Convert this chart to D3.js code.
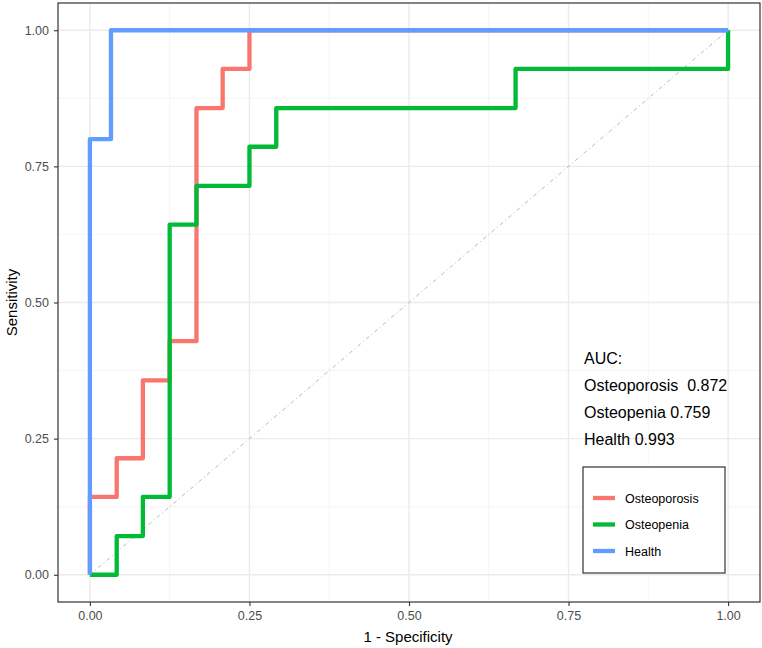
<!DOCTYPE html>
<html>
<head>
<meta charset="utf-8">
<script src="https://cdn.jsdelivr.net/npm/d3@7"></script>
<style>
  body { margin: 0; background: #fff; }
  text { font-family: "Liberation Sans", Arial, sans-serif; }
</style>
</head>
<body>
<div id="chart"></div>
<script>
// ROC points (1 - specificity, sensitivity)
var porosisFpr  = [0, 0, 0.042, 0.083, 0.125, 0.167, 0.208, 0.25, 1];
var porosisSens = [0, 0.143, 0.214, 0.357, 0.429, 0.857, 0.929, 1, 1];

var peniaFpr  = [0, 0.042, 0.083, 0.125, 0.167, 0.25, 0.292, 0.667, 1, 1];
var peniaSens = [0, 0.071, 0.143, 0.643, 0.714, 0.786, 0.857, 0.929, 0.929, 1];

var healthFpr  = [0, 0, 0.033, 1];
var healthSens = [0, 0.8, 1, 1];

var seriesNames = ["Osteoporosis", "Osteopenia", "Health"];
var aucLines = ["AUC:", "Osteoporosis  0.872", "Osteopenia 0.759", "Health 0.993"];
var tickValues = [0, 0.25, 0.5, 0.75, 1];
var minorValues = [0.125, 0.375, 0.625, 0.875];

var colors = ["#F8766D", "#00BA38", "#619CFF"];

// SVG size and panel edges
var svgWidth = 762;
var svgHeight = 648;
var panel = { left: 58, right: 760, top: 3, bottom: 602 };

var svg = d3.select("#chart")
  .append("svg")
  .attr("width", svgWidth)
  .attr("height", svgHeight);

var x = d3.scaleLinear().domain([-0.05, 1.05]).range([panel.left, panel.right]);
var y = d3.scaleLinear().domain([-0.05, 1.05]).range([panel.bottom, panel.top]);

// grid lines
var grid = svg.append("g");
minorValues.forEach(function(v) {
  grid.append("line").attr("x1", x(v)).attr("x2", x(v))
    .attr("y1", panel.top).attr("y2", panel.bottom)
    .attr("stroke", "#f2f2f2").attr("stroke-width", 0.8);
  grid.append("line").attr("y1", y(v)).attr("y2", y(v))
    .attr("x1", panel.left).attr("x2", panel.right)
    .attr("stroke", "#f2f2f2").attr("stroke-width", 0.8);
});
tickValues.forEach(function(v) {
  grid.append("line").attr("x1", x(v)).attr("x2", x(v))
    .attr("y1", panel.top).attr("y2", panel.bottom)
    .attr("stroke", "#ebebeb").attr("stroke-width", 1.4);
  grid.append("line").attr("y1", y(v)).attr("y2", y(v))
    .attr("x1", panel.left).attr("x2", panel.right)
    .attr("stroke", "#ebebeb").attr("stroke-width", 1.4);
});

// diagonal reference
svg.append("line")
  .attr("x1", x(0)).attr("y1", y(0))
  .attr("x2", x(1)).attr("y2", y(1))
  .attr("stroke", "#b0b0b0")
  .attr("stroke-width", 0.9)
  .attr("stroke-dasharray", "4,3,1,3");

// ROC curves
var series = [
  d3.zip(porosisFpr, porosisSens),
  d3.zip(peniaFpr, peniaSens),
  d3.zip(healthFpr, healthSens)
];

var line = d3.line()
  .x(d => x(d[0]))
  .y(d => y(d[1]))
  .curve(d3.curveStepAfter);

series.forEach(function(s, i) {
  svg.append("path")
    .attr("d", line(s))
    .attr("fill", "none")
    .attr("stroke", colors[i])
    .attr("stroke-width", 4.3)
    .attr("stroke-linejoin", "round");
});

// panel border
svg.append("rect")
  .attr("x", panel.left).attr("y", panel.top)
  .attr("width", panel.right - panel.left)
  .attr("height", panel.bottom - panel.top)
  .attr("fill", "none")
  .attr("stroke", "#333333")
  .attr("stroke-width", 1.2);

// axes
var fmt = d3.format(".2f");
var bottomAxis = d3.axisBottom(x).tickValues(tickValues).tickFormat(fmt).tickSize(4).tickPadding(5);
var leftAxis = d3.axisLeft(y).tickValues(tickValues).tickFormat(fmt).tickSize(4).tickPadding(5);

var gx = svg.append("g")
  .attr("transform", `translate(0, ${panel.bottom})`)
  .call(bottomAxis);
var gy = svg.append("g")
  .attr("transform", `translate(${panel.left}, 0)`)
  .call(leftAxis);

[gx, gy].forEach(function(g) {
  g.select(".domain").remove();
  g.selectAll(".tick line").attr("stroke", "#333333").attr("stroke-width", 1.1);
  g.selectAll(".tick text")
    .attr("fill", "#4d4d4d")
    .style("font-size", "12.5px")
    .style("font-family", "Liberation Sans, Arial, sans-serif");
});

// axis titles
svg.append("text")
  .attr("x", 408)
  .attr("y", 642)
  .attr("text-anchor", "middle")
  .style("font-size", "15px")
  .text("1 - Specificity");

svg.append("text")
  .attr("transform", `translate(17, ${(panel.top + panel.bottom) / 2}) rotate(-90)`)
  .attr("text-anchor", "middle")
  .style("font-size", "15px")
  .text("Sensitivity");

// AUC annotation
svg.selectAll(".auc")
  .data(aucLines)
  .enter()
  .append("text")
  .attr("class", "auc")
  .attr("x", 584)
  .attr("y", (d, i) => 364 + i * 27)
  .style("font-size", "16px")
  .style("white-space", "pre")
  .attr("fill", "#000")
  .text(d => d);

// legend
var legend = svg.append("g");
legend.append("rect")
  .attr("x", 583).attr("y", 467)
  .attr("width", 142).attr("height", 106)
  .attr("fill", "#fff")
  .attr("stroke", "#333333")
  .attr("stroke-width", 1.2);

seriesNames.forEach(function(name, i) {
  var ly = 498 + i * 26.5;
  legend.append("line")
    .attr("x1", 593).attr("x2", 615)
    .attr("y1", ly).attr("y2", ly)
    .attr("stroke", colors[i])
    .attr("stroke-width", 4.3);
  legend.append("text")
    .attr("x", 625)
    .attr("y", ly + 4.5)
    .style("font-size", "12.5px")
    .text(name);
});
</script>
</body>
</html>
